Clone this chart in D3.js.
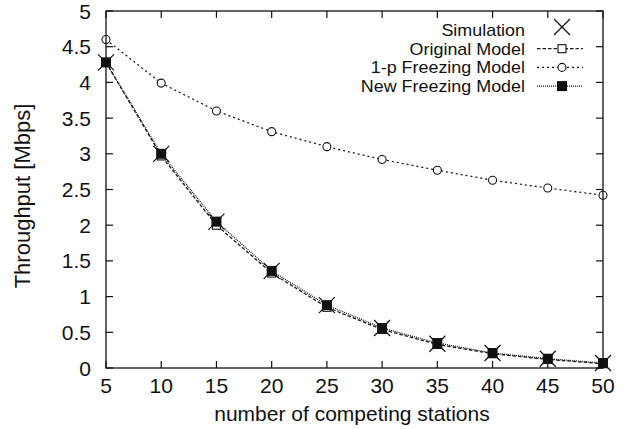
<!DOCTYPE html>
<html><head><meta charset="utf-8">
<script src="https://cdn.jsdelivr.net/npm/d3@7"></script>
<style>body{margin:0;background:#fff}svg{display:block}text{font-family:"Liberation Sans",Arial,sans-serif;fill:#111}</style>
</head><body>
<script>
const stations = [5,10,15,20,25,30,35,40,45,50];
const simulation = [4.28,3.00,2.05,1.36,0.88,0.56,0.34,0.21,0.13,0.07];
const originalModel = [4.28,2.97,2.00,1.33,0.85,0.54,0.33,0.20,0.12,0.06];
const oneMinusPModel = [4.60,3.99,3.60,3.31,3.10,2.92,2.77,2.63,2.52,2.42];
const newFreezingModel = [4.28,3.00,2.05,1.36,0.88,0.56,0.35,0.21,0.13,0.07];
const xTicks = [5,10,15,20,25,30,35,40,45,50];
const yTicks = [0,0.5,1,1.5,2,2.5,3,3.5,4,4.5,5];
const legendLabels = ["Simulation","Original Model","1-p Freezing Model","New Freezing Model"];

const W=626,H=429;
const svg=d3.select("body").append("svg").attr("width",W).attr("height",H);
const L=106,R=603,T=11,B=368;
const x=d3.scaleLinear().domain([5,50]).range([L,R]);
const y=d3.scaleLinear().domain([0,5]).range([B,T]);
const tl=7;
const FS=21;
// ticks
const g=svg.append("g").attr("stroke","#111").attr("stroke-width",1.2);
xTicks.forEach(v=>{
  g.append("line").attr("x1",x(v)).attr("x2",x(v)).attr("y1",B).attr("y2",B-tl);
  g.append("line").attr("x1",x(v)).attr("x2",x(v)).attr("y1",T).attr("y2",T+tl);
});
yTicks.forEach(v=>{
  g.append("line").attr("x1",L).attr("x2",L+tl).attr("y1",y(v)).attr("y2",y(v));
  g.append("line").attr("x1",R).attr("x2",R-tl).attr("y1",y(v)).attr("y2",y(v));
});
svg.append("g").selectAll("text").data(xTicks).join("text")
  .attr("x",d=>x(d)).attr("y",B+25).attr("text-anchor","middle").attr("font-size",FS).text(d=>d);
svg.append("g").selectAll("text").data(yTicks).join("text")
  .attr("x",91).attr("y",d=>y(d)+7.5).attr("text-anchor","end").attr("font-size",FS).text(d=>d);
svg.append("text").attr("x",352).attr("y",421).attr("text-anchor","middle").attr("font-size",FS).text("number of competing stations");
svg.append("text").attr("transform",`translate(30,196) rotate(-90)`).attr("text-anchor","middle").attr("font-size",22).text("Throughput [Mbps]");

const line=d3.line().x((d,i)=>x(stations[i])).y(d=>y(d));
const styles=[
  {data:originalModel,dash:"3.5,2",marker:"osq"},
  {data:oneMinusPModel,dash:"2,3",marker:"circ"},
  {data:newFreezingModel,dash:"1,1",marker:"fsq"},
];
const plot=svg.append("g");
styles.forEach(s=>{
  plot.append("path").attr("d",line(s.data)).attr("fill","none").attr("stroke","#1a1a1a").attr("stroke-width",1.3).attr("stroke-dasharray",s.dash);
});
function marker(gg,type,cx,cy){
  if(type==="osq") gg.append("rect").attr("x",cx-4).attr("y",cy-4).attr("width",8).attr("height",8).attr("fill","#fff").attr("stroke","#111").attr("stroke-width",1.1);
  else if(type==="circ") gg.append("circle").attr("cx",cx).attr("cy",cy).attr("r",4).attr("fill","#fff").attr("stroke","#111").attr("stroke-width",1.1);
  else if(type==="fsq") gg.append("rect").attr("x",cx-5).attr("y",cy-5).attr("width",10).attr("height",10).attr("fill","#111");
  else if(type==="x"){const s=8;gg.append("path").attr("d",`M${cx-s},${cy-s}L${cx+s},${cy+s}M${cx-s},${cy+s}L${cx+s},${cy-s}`).attr("stroke","#111").attr("stroke-width",1.2).attr("fill","none");}
}
styles.forEach(s=>s.data.forEach((v,i)=>marker(plot,s.marker,x(stations[i]),y(v))));
simulation.forEach((v,i)=>marker(plot,"x",x(stations[i]),y(v)));

// frame
svg.append("rect").attr("x",L).attr("y",T).attr("width",R-L).attr("height",B-T).attr("fill","none").attr("stroke","#111").attr("stroke-width",1.3);

// legend
const lg=svg.append("g");
const rowsY=[30,48.7,67.4,86.1];
legendLabels.forEach((t,i)=>{
  lg.append("text").attr("transform",`translate(525,${rowsY[i]+6}) scale(1.12,1)`)
    .attr("text-anchor","end").attr("font-size",16).text(t);
});
marker(lg,"x",562,rowsY[0]-3);
styles.forEach((s,i)=>{
  lg.append("line").attr("x1",537).attr("x2",583).attr("y1",rowsY[i+1]).attr("y2",rowsY[i+1]).attr("stroke","#1a1a1a").attr("stroke-width",1.3).attr("stroke-dasharray",s.dash);
  marker(lg,s.marker,562,rowsY[i+1]);
});
</script>
</body></html>
